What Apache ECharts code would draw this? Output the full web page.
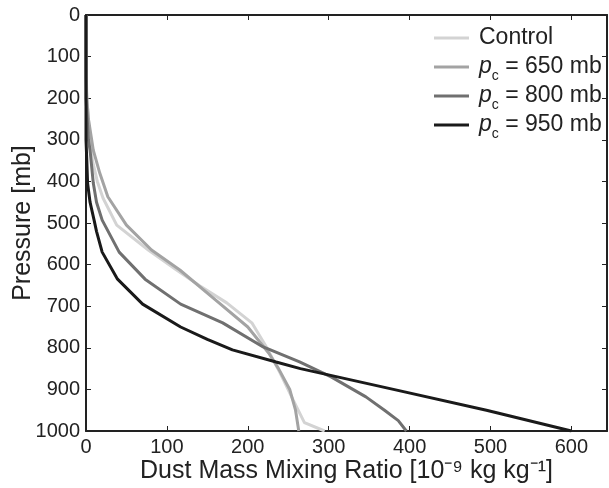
<!DOCTYPE html>
<html>
<head>
<meta charset="utf-8">
<script src="https://cdn.jsdelivr.net/npm/echarts@6/dist/echarts.min.js"></script>
<style>html,body{margin:0;padding:0;background:#fff}#c{width:609px;height:488px}</style>
</head>
<body>
<div id="c"></div>
<script>
// Pressure levels [mb] and dust mass mixing ratio [1e-9 kg/kg] per run
const controlP = [0, 100, 200, 250, 300, 350, 400, 440, 505, 565, 613, 650, 692, 740, 798, 861, 925, 980, 1000];
const controlV = [0, 0, 1, 3, 5, 8, 14, 21, 38, 77, 112, 140, 174, 205, 223, 240, 256, 270, 295];

const pc650P = [0, 150, 200, 250, 300, 325, 380, 437, 505, 565, 613, 685, 750, 813, 850, 901, 950, 1000];
const pc650V = [0, 0, 1, 3, 7, 9, 17, 27, 50, 81, 116, 160, 200, 226, 238, 252, 259, 263];

const pc800P = [0, 200, 300, 325, 404, 450, 493, 570, 635, 695, 740, 798, 834, 870, 918, 950, 975, 1000];
const pc800V = [0, 0, 3, 5, 9, 13, 20, 41, 73, 117, 169, 219, 264, 303, 346, 369, 386, 396];

const pc950P = [0, 300, 350, 405, 450, 493, 520, 570, 635, 695, 750, 780, 805, 834, 850, 900, 950, 1000];
const pc950V = [0, 0, 1, 2, 5, 10, 13, 20, 39, 70, 117, 150, 181, 235, 265, 380, 495, 600];

const seriesNames = ['Control', 'pc650', 'pc800', 'pc950'];
const legendLabels = ['Control', '{p|p}{c|c} = 650 mb', '{p|p}{c|c} = 800 mb', '{p|p}{c|c} = 950 mb'];
const colors = ['#d3d3d3', '#a3a3a3', '#707070', '#1a1a1a'];
const xTicks = [0, 100, 200, 300, 400, 500, 600];
const yTicks = [0, 100, 200, 300, 400, 500, 600, 700, 800, 900, 1000];

function pairs(v, p) { return v.map((x, i) => [x, p[i]]); }
const allData = [pairs(controlV, controlP), pairs(pc650V, pc650P), pairs(pc800V, pc800P), pairs(pc950V, pc950P)];

const FONT = 'Liberation Sans, Arial, Helvetica, sans-serif';
const ink = '#222';
const axisLine = { show: true, onZero: false, lineStyle: { color: ink, width: 2 } };
const axisTick = { show: true, inside: true, length: 5, lineStyle: { color: ink, width: 1 } };

const chart = echarts.init(document.getElementById('c'));
chart.setOption({
  animation: false,
  backgroundColor: '#fff',
  grid: { left: 86, right: 2, top: 15, bottom: 57, containLabel: false, outerBoundsMode: 'none' },
  legend: {
    orient: 'vertical', left: 434, top: 22, padding: 0,
    icon: 'rect', itemWidth: 35, itemHeight: 3, itemGap: -3,
    data: seriesNames,
    formatter: n => legendLabels[seriesNames.indexOf(n)],
    textStyle: {
      fontFamily: FONT, fontSize: 23, color: ink, lineHeight: 32, padding: [0, 0, 0, 5],
      rich: {
        p: { fontFamily: FONT, fontSize: 23, fontStyle: 'italic', color: ink, lineHeight: 32 },
        c: { fontFamily: FONT, fontSize: 14, color: ink, lineHeight: 14, verticalAlign: 'bottom' }
      }
    }
  },
  xAxis: [{
    type: 'value', position: 'bottom', min: 0, max: 644, interval: 100,
    axisLine, axisTick, splitLine: { show: false },
    axisLabel: { fontFamily: FONT, fontSize: 20, color: ink, margin: 6,
      formatter: v => xTicks.indexOf(v) >= 0 ? String(v) : '' },
    name: 'Dust Mass Mixing Ratio [10⁻⁹ kg kg⁻¹]', nameLocation: 'middle', nameGap: 28,
    nameMoveOverlap: false,
    nameTextStyle: { fontFamily: FONT, fontSize: 25, color: ink }
  }, {
    type: 'value', position: 'top', min: 0, max: 644, interval: 100,
    axisLine, axisTick, splitLine: { show: false }, axisLabel: { show: false }
  }],
  yAxis: [{
    type: 'value', inverse: true, position: 'left', min: 0, max: 1000, interval: 100,
    axisLine, axisTick, splitLine: { show: false },
    axisLabel: { fontFamily: FONT, fontSize: 20, color: ink, margin: 6,
      formatter: v => yTicks.indexOf(v) >= 0 ? String(v) : '' },
    name: 'Pressure [mb]', nameLocation: 'middle', nameGap: 50,
    nameMoveOverlap: false,
    nameTextStyle: { fontFamily: FONT, fontSize: 25, color: ink }
  }, {
    type: 'value', inverse: true, position: 'right', min: 0, max: 1000, interval: 100,
    axisLine, axisTick, splitLine: { show: false }, axisLabel: { show: false }
  }],
  series: seriesNames.map((n, i) => ({
    name: n, type: 'line', xAxisIndex: 0, yAxisIndex: 0,
    data: allData[i], showSymbol: false, symbol: 'none',
    color: colors[i],
    lineStyle: { color: colors[i], width: 3 },
    z: 2 + i
  }))
});
</script>
</body>
</html>
